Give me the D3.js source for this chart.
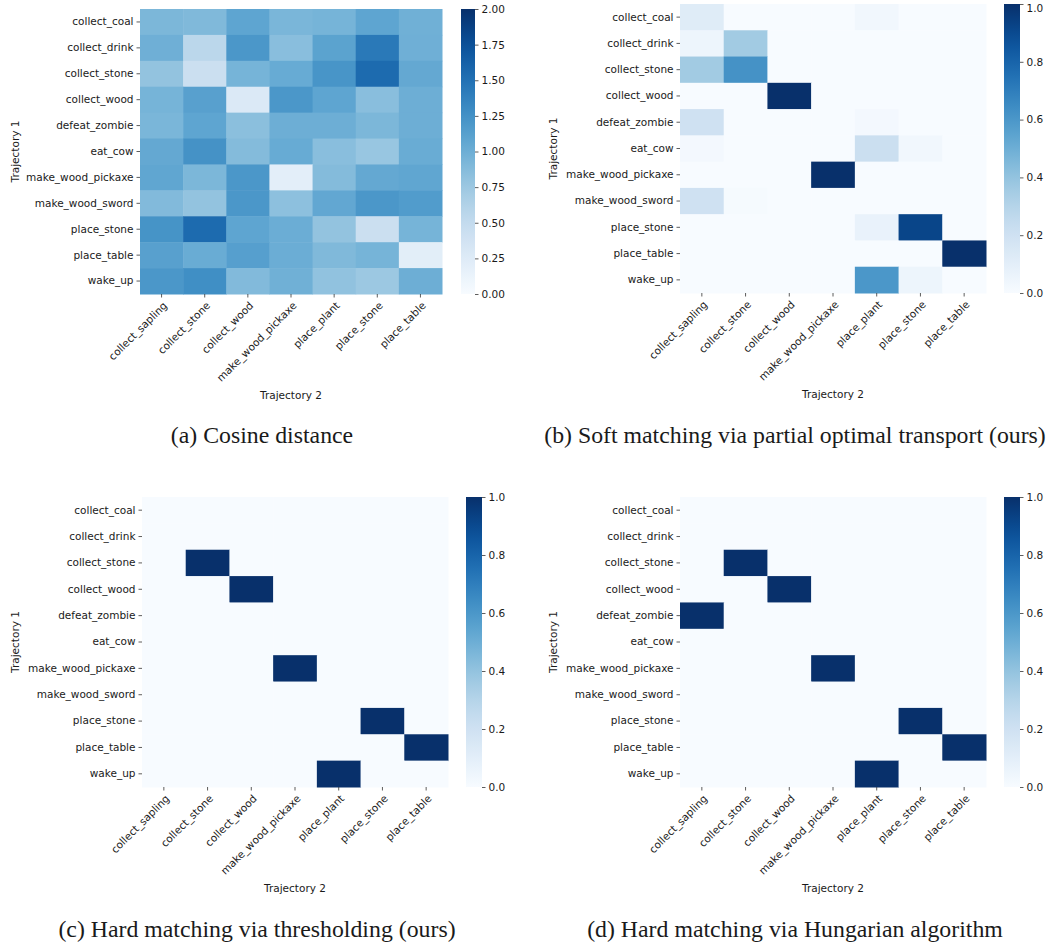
<!DOCTYPE html>
<html>
<head>
<meta charset="utf-8">
<script src="https://cdn.jsdelivr.net/npm/d3@7"></script>
<style>
  body { margin: 0; background: #fff; }
  svg text { font-family: "DejaVu Sans", sans-serif; fill: #1a1a1a; }
  .caption { font-family: "Liberation Serif", "Times New Roman", serif; }
</style>
</head>
<body>
<div id="chart"></div>
<script>
var rows = ["collect_coal", "collect_drink", "collect_stone", "collect_wood", "defeat_zombie", "eat_cow",
  "make_wood_pickaxe", "make_wood_sword", "place_stone", "place_table", "wake_up"];
var cols = ["collect_sapling", "collect_stone", "collect_wood", "make_wood_pickaxe", "place_plant", "place_stone", "place_table"];

// (a) cosine distance, 0..2
var cosineDist = [
  [0.92, 0.90, 1.08, 0.93, 0.95, 1.08, 0.98],
  [0.99, 0.56, 1.20, 0.85, 1.10, 1.44, 0.99],
  [0.80, 0.44, 0.95, 1.03, 1.22, 1.55, 1.05],
  [0.95, 1.12, 0.28, 1.20, 1.08, 0.85, 1.00],
  [0.93, 1.08, 0.84, 1.00, 1.00, 0.92, 1.00],
  [1.05, 1.24, 0.88, 1.03, 0.85, 0.77, 1.02],
  [1.07, 0.92, 1.20, 0.20, 0.88, 1.05, 1.07],
  [0.89, 0.80, 1.20, 0.83, 1.06, 1.20, 1.16],
  [1.23, 1.55, 1.08, 1.01, 0.80, 0.44, 0.95],
  [1.12, 1.02, 1.13, 1.01, 0.90, 0.95, 0.21],
  [1.20, 1.27, 0.89, 0.98, 0.81, 0.75, 1.00]
];

// (b) soft matching, 0..1
var softMatch = [
  [0.12, 0, 0, 0, 0.03, 0, 0],
  [0.05, 0.36, 0, 0, 0, 0, 0],
  [0.36, 0.62, 0, 0, 0, 0, 0],
  [0, 0, 1.00, 0, 0, 0, 0],
  [0.20, 0, 0, 0, 0.02, 0, 0],
  [0.02, 0, 0, 0, 0.22, 0.03, 0],
  [0, 0, 0, 1.00, 0, 0, 0],
  [0.20, 0.01, 0, 0, 0, 0, 0],
  [0, 0, 0, 0, 0.07, 0.92, 0],
  [0, 0, 0, 0, 0, 0, 1.00],
  [0, 0, 0, 0, 0.60, 0.05, 0]
];

// (c) thresholding
var hardThresh = [
  [0, 0, 0, 0, 0, 0, 0],
  [0, 0, 0, 0, 0, 0, 0],
  [0, 1, 0, 0, 0, 0, 0],
  [0, 0, 1, 0, 0, 0, 0],
  [0, 0, 0, 0, 0, 0, 0],
  [0, 0, 0, 0, 0, 0, 0],
  [0, 0, 0, 1, 0, 0, 0],
  [0, 0, 0, 0, 0, 0, 0],
  [0, 0, 0, 0, 0, 1, 0],
  [0, 0, 0, 0, 0, 0, 1],
  [0, 0, 0, 0, 1, 0, 0]
];

// (d) hungarian
var hardHungarian = [
  [0, 0, 0, 0, 0, 0, 0],
  [0, 0, 0, 0, 0, 0, 0],
  [0, 1, 0, 0, 0, 0, 0],
  [0, 0, 1, 0, 0, 0, 0],
  [1, 0, 0, 0, 0, 0, 0],
  [0, 0, 0, 0, 0, 0, 0],
  [0, 0, 0, 1, 0, 0, 0],
  [0, 0, 0, 0, 0, 0, 0],
  [0, 0, 0, 0, 0, 1, 0],
  [0, 0, 0, 0, 0, 0, 1],
  [0, 0, 0, 0, 1, 0, 0]
];

var ticksA = [0, 0.25, 0.5, 0.75, 1, 1.25, 1.5, 1.75, 2];
var ticksB = [0, 0.2, 0.4, 0.6, 0.8, 1];

var captions = ["(a) Cosine distance", "(b) Soft matching via partial optimal transport (ours)",
  "(c) Hard matching via thresholding (ours)", "(d) Hard matching via Hungarian algorithm"];

var panels = [
  {m: cosineDist, max: 2, ticks: ticksA, fmt: ".2f", x: 140, y: 9, w: 302, h: 285, cbx: 461, cbw: 14, cap: captions[0], capX: 262, capY: 443},
  {m: softMatch, max: 1, ticks: ticksB, fmt: ".1f", x: 680, y: 4, w: 306, h: 289, cbx: 1004, cbw: 16, cap: captions[1], capX: 795, capY: 443},
  {m: hardThresh, max: 1, ticks: ticksB, fmt: ".1f", x: 142, y: 497, w: 306, h: 290, cbx: 466, cbw: 16, cap: captions[2], capX: 257, capY: 937},
  {m: hardHungarian, max: 1, ticks: ticksB, fmt: ".1f", x: 680, y: 497, w: 306, h: 290, cbx: 1004, cbw: 16, cap: captions[3], capX: 795, capY: 937}
];

var svg = d3.select('#chart').append('svg')
  .attr('width', 1061)
  .attr('height', 951);

var defs = svg.append('defs');

panels.forEach(function(p, pi) {
  var color = d3.scaleSequential(d3.interpolateBlues).domain([0, p.max]);
  var xs = d3.scaleBand().domain(cols).range([0, p.w]);
  var ys = d3.scaleBand().domain(rows).range([0, p.h]);

  var g = svg.append('g').attr('transform', 'translate(' + p.x + ',' + p.y + ')');

  // cells
  var cells = [];
  p.m.forEach(function(r, i) {
    r.forEach(function(v, j) { cells.push({row: rows[i], col: cols[j], v: v}); });
  });
  g.selectAll('rect.cell')
      .data(cells)
    .enter().append('rect')
      .attr('class', 'cell')
      .attr('x', function(d) { return xs(d.col); })
      .attr('y', function(d) { return ys(d.row); })
      .attr('width', xs.bandwidth() + 0.5)
      .attr('height', ys.bandwidth() + 0.5)
      .attr('fill', function(d) { return color(d.v); });

  // axes
  var xAxis = d3.axisBottom(xs).tickSize(3.5).tickPadding(3).tickSizeOuter(0);
  var yAxis = d3.axisLeft(ys).tickSize(3.5).tickPadding(3).tickSizeOuter(0);

  var xg = g.append('g').attr('transform', 'translate(0,' + p.h + ')').call(xAxis);
  xg.select('.domain').remove();
  xg.selectAll('.tick line').attr('stroke', '#333').attr('stroke-width', 0.8);
  xg.selectAll('.tick text')
    .attr('font-size', 10.5)
    .attr('text-anchor', 'end')
    .attr('dy', '0.3em')
    .attr('transform', 'translate(4,10) rotate(-45)')
    .attr('y', 0).attr('x', 0);

  var yg = g.append('g').call(yAxis);
  yg.select('.domain').remove();
  yg.selectAll('.tick line').attr('stroke', '#333').attr('stroke-width', 0.8);
  yg.selectAll('.tick text').attr('font-size', 10.5);

  // axis titles
  g.append('text')
    .attr('x', p.w / 2)
    .attr('y', p.h + 105)
    .attr('text-anchor', 'middle')
    .attr('font-size', 10.5)
    .text('Trajectory 2');

  g.append('text')
    .attr('transform', 'translate(' + (pi % 2 === 0 ? 15 - p.x : 553 - p.x) + ',' + (p.h / 2) + ') rotate(-90)')
    .attr('text-anchor', 'middle')
    .attr('dy', '0.35em')
    .attr('font-size', 10.5)
    .text('Trajectory 1');

  // colorbar
  var gradId = 'grad' + pi;
  var grad = defs.append('linearGradient')
    .attr('id', gradId)
    .attr('x1', 0).attr('y1', 1).attr('x2', 0).attr('y2', 0);
  d3.range(0, 1.0001, 0.05).forEach(function(t) {
    grad.append('stop').attr('offset', t).attr('stop-color', d3.interpolateBlues(t));
  });

  var cbScale = d3.scaleLinear().domain([0, p.max]).range([p.h, 0]);
  var cb = svg.append('g').attr('transform', 'translate(' + p.cbx + ',' + p.y + ')');
  cb.append('rect')
    .attr('width', p.cbw)
    .attr('height', p.h)
    .attr('fill', 'url(#' + gradId + ')');
  var cbAxis = d3.axisRight(cbScale).tickValues(p.ticks).tickFormat(d3.format(p.fmt))
    .tickSize(3.5).tickPadding(3);
  var cbg = cb.append('g').attr('transform', 'translate(' + p.cbw + ',0)').call(cbAxis);
  cbg.select('.domain').remove();
  cbg.selectAll('.tick line').attr('stroke', '#333').attr('stroke-width', 0.8);
  cbg.selectAll('.tick text').attr('font-size', 10.5);
  // keep the top label inside the picture
  if (p.y < 8) {
    cbg.selectAll('.tick text').filter(function(d) { return d === p.max; })
      .attr('dy', (8 - p.y) / 10.5 + 0.32 + 'em');
  }

  // caption
  svg.append('text')
    .attr('class', 'caption')
    .attr('x', p.capX)
    .attr('y', p.capY)
    .attr('text-anchor', 'middle')
    .attr('font-size', 23.8)
    .text(p.cap);
});
</script>
</body>
</html>
